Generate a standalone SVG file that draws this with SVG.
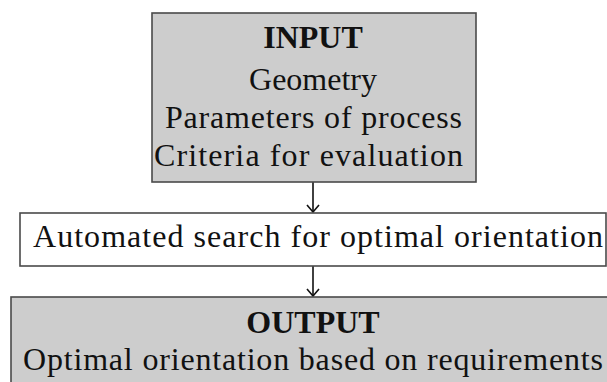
<svg xmlns="http://www.w3.org/2000/svg" width="607" height="382" viewBox="0 0 607 382">
<style>
.box{stroke:#4a4a4a;stroke-width:1.6}
.gray{fill:#cdcdcd}
.white{fill:#ffffff}
.t{font-family:"Liberation Serif","Times New Roman",serif;font-size:32px;fill:#111}
.b{font-weight:bold}
.c{text-anchor:middle}
.conn{stroke:#111;stroke-width:1.6;fill:none}
</style>
<defs>
<marker id="arr" markerWidth="10" markerHeight="14" refX="9" refY="7" orient="auto" markerUnits="userSpaceOnUse" viewBox="0 0 10 14">
<path d="M2,1 L9,7 L2,13" fill="none" stroke="#111" stroke-width="1.6"/>
</marker>
</defs>
<rect width="607" height="382" fill="#ffffff"/>
<g id="connectors">
<line class="conn" x1="313" y1="182" x2="313" y2="212" marker-end="url(#arr)"/>
<line class="conn" x1="313" y1="266" x2="313" y2="296" marker-end="url(#arr)"/>
</g>
<g id="input">
<rect class="box gray" x="152" y="13" width="324" height="169"/>
<text class="t b c" x="313" y="48">INPUT</text>
<text class="t c" x="313" y="90">Geometry</text>
<text class="t" x="165" y="128" textLength="297" lengthAdjust="spacing">Parameters of process</text>
<text class="t" x="154" y="166" textLength="309" lengthAdjust="spacing">Criteria for evaluation</text>
</g>
<g id="search">
<rect class="box white" x="20" y="213" width="586" height="53"/>
<text class="t" x="33" y="247" textLength="570" lengthAdjust="spacing">Automated search for optimal orientation</text>
</g>
<g id="output">
<rect class="box gray" x="11" y="297" width="610" height="100"/>
<text class="t b c" x="313" y="333">OUTPUT</text>
<text class="t" x="23" y="370" textLength="580" lengthAdjust="spacing">Optimal orientation based on requirements</text>
</g>
</svg>
